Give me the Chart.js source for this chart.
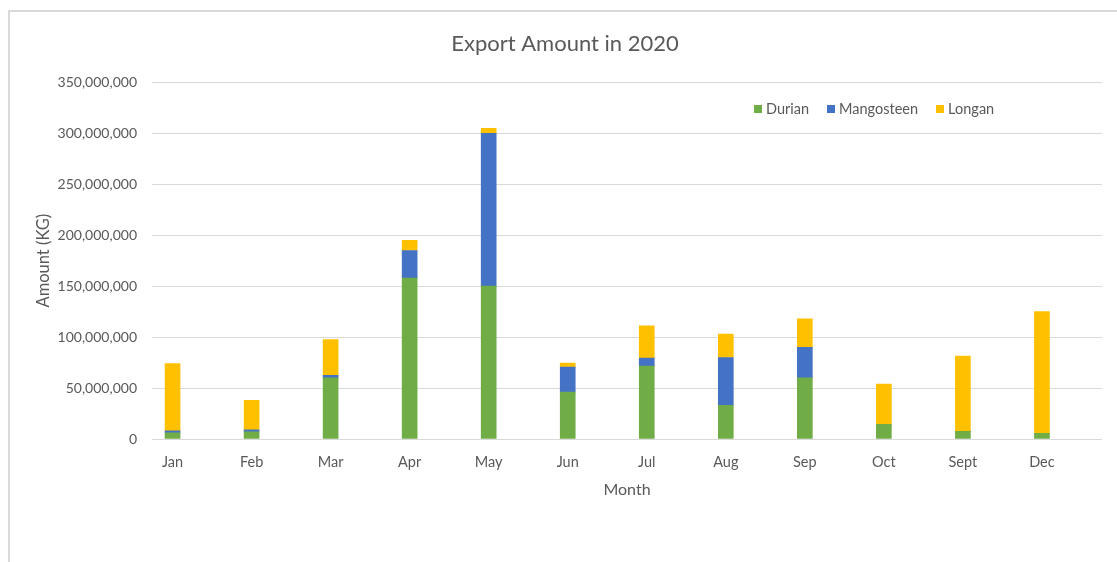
<!DOCTYPE html>
<html lang="en">
<head>
  <meta charset="UTF-8">
  <title>Export Amount in 2020</title>
  <script src="https://cdn.jsdelivr.net/npm/chart.js"></script>
  <style>
    body {
      margin: 0;
      background: #fff;
      font-family: Lato, sans-serif;
    }
    .wrap {
      position: relative;
      width: 1117px;
      height: 562px;
    }
    .frame {
      position: absolute;
      left: 8px;
      top: 10px;
      right: 0;
      bottom: 0;
      border-left: 2px solid #d9d9d9;
      border-top: 2px solid #d9d9d9;
      pointer-events: none;
    }
    #legend {
      position: absolute;
      left: 754px;
      top: 100px;
      display: flex;
      gap: 18px;
      font-size: 14.5px;
      color: #595959;
    }
    #legend span.item {
      display: flex;
      align-items: center;
    }
    #legend i {
      display: inline-block;
      width: 8px;
      height: 8px;
      margin-right: 4px;
    }
  </style>
</head>
<body>
  <div class="wrap">
    <canvas id="exportChart" width="1117" height="562"></canvas>
    <div class="frame"></div>
    <div id="legend"></div>
  </div>

  <script>
    const months = ['Jan', 'Feb', 'Mar', 'Apr', 'May', 'Jun', 'Jul', 'Aug', 'Sep', 'Oct', 'Sept', 'Dec'];
    const durian = [6000000, 7000000, 60000000, 158000000, 150000000, 46000000, 71500000, 33000000, 60000000, 14500000, 7500000, 5500000];
    const mangosteen = [2000000, 2000000, 2500000, 27000000, 150000000, 24500000, 8000000, 47000000, 30000000, 0, 0, 0];
    const longan = [66000000, 29000000, 35000000, 10000000, 5000000, 4000000, 31500000, 23000000, 28000000, 39500000, 74000000, 119500000];
    const yTicks = [0, 50000000, 100000000, 150000000, 200000000, 250000000, 300000000, 350000000];

    const grey = '#595959';

    function points(values) {
      return values.map((v, i) => ({ x: i, y: v }));
    }

    const datasets = [
      { label: 'Durian', data: points(durian), backgroundColor: '#70ad47' },
      { label: 'Mangosteen', data: points(mangosteen), backgroundColor: '#4472c4' },
      { label: 'Longan', data: points(longan), backgroundColor: '#ffc000' },
    ];

    const chart = new Chart(document.getElementById('exportChart'), {
      type: 'bar',
      data: { datasets: datasets },
      options: {
        responsive: false,
        animation: false,
        layout: { padding: { top: 0, left: 28, right: 15, bottom: 0 } },
        datasets: { bar: { barThickness: 15 } },
        plugins: {
          legend: { display: false },
          tooltip: { enabled: false },
          title: {
            display: true,
            text: 'Export Amount in 2020',
            color: grey,
            font: { family: 'Lato', size: 22, weight: 'normal' },
            padding: { top: 31, bottom: 25 },
          },
        },
        scales: {
          x: {
            type: 'linear',
            stacked: true,
            offset: false,
            min: -0.26,
            max: 11.76,
            grid: { display: false },
            border: { display: false },
            afterBuildTicks: (axis) => {
              axis.ticks = months.map((m, i) => ({ value: i }));
            },
            afterFit: (axis) => { axis.height = 123; },
            ticks: {
              color: grey,
              font: { family: 'Lato', size: 14.5 },
              padding: 7,
              maxRotation: 0,
              autoSkip: false,
              callback: (v) => months[v],
            },
            title: {
              display: true,
              text: 'Month',
              color: grey,
              font: { family: 'Lato', size: 16 },
              padding: { bottom: 63 },
            },
          },
          y: {
            stacked: true,
            min: 0,
            max: 350000000,
            afterBuildTicks: (axis) => {
              axis.ticks = yTicks.map(v => ({ value: v }));
            },
            afterFit: (axis) => { axis.width = 124; },
            grid: { color: '#d9d9d9', lineWidth: 1, drawTicks: false },
            border: { display: false },
            ticks: {
              color: grey,
              font: { family: 'Lato', size: 14 },
              padding: 15,
              callback: (v) => v.toLocaleString('en-US'),
            },
            title: {
              display: true,
              text: 'Amount (KG)',
              color: grey,
              font: { family: 'Lato', size: 16.5 },
              padding: { top: 6 },
            },
          },
        },
      },
    });

    // legend built from the datasets
    const legend = document.getElementById('legend');
    chart.data.datasets.forEach(ds => {
      const item = document.createElement('span');
      item.className = 'item';
      item.innerHTML = `<i style="background:${ds.backgroundColor}"></i>${ds.label}`;
      legend.appendChild(item);
    });
  </script>
</body>
</html>
